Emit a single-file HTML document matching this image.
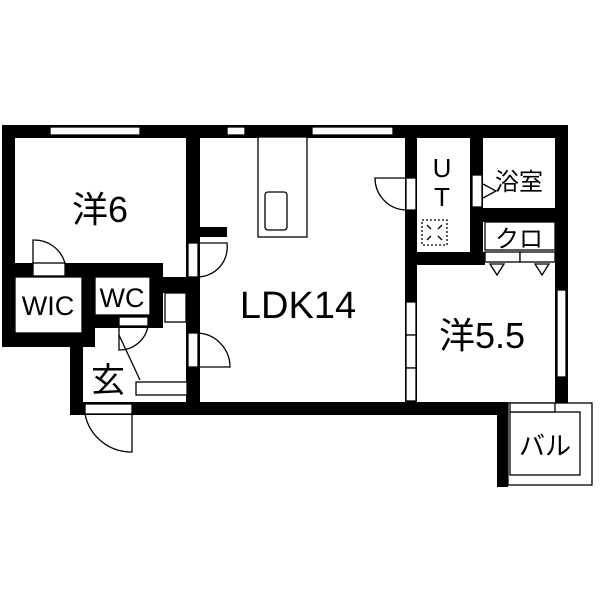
<!DOCTYPE html>
<html><head><meta charset="utf-8"><style>body{margin:0;background:#fff}svg{display:block}text{font-family:"Liberation Sans","Noto Sans CJK JP",sans-serif;fill:#000}</style></head><body>
<svg width="600" height="600" viewBox="0 0 600 600" xmlns="http://www.w3.org/2000/svg">
<g fill="#000">
<rect x="2" y="125" width="566" height="13"/>
<rect x="2" y="125" width="13" height="222"/>
<rect x="2" y="333" width="91" height="14"/>
<rect x="70" y="333" width="13" height="82"/>
<rect x="70" y="402" width="438" height="13"/>
<rect x="555" y="125" width="13" height="290"/>
<rect x="497" y="402" width="11" height="85"/>
<rect x="186" y="125" width="14" height="280"/>
<rect x="186" y="227" width="41" height="10"/>
<rect x="15" y="263" width="148" height="14"/>
<rect x="82" y="263" width="13" height="84"/>
<rect x="150" y="263" width="13" height="65"/>
<rect x="82" y="315" width="81" height="13"/>
<rect x="163" y="277" width="37" height="16"/>
<rect x="405" y="125" width="12" height="280"/>
<rect x="470" y="125" width="13" height="132"/>
<rect x="405" y="252" width="80" height="13"/>
<rect x="483" y="208" width="74" height="14"/>
</g>
<g fill="#fff" stroke="#000" stroke-width="1.3">
<rect x="50" y="127" width="90" height="8"/>
<rect x="227" y="127" width="18" height="8"/>
<rect x="312" y="127" width="81" height="8"/>
<rect x="15" y="277" width="67" height="56"/>
<rect x="95" y="277" width="55" height="38"/>
<rect x="33" y="263" width="32" height="13"/>
<rect x="119" y="317" width="29" height="9"/>
<rect x="165" y="293" width="21" height="29"/>
<rect x="136" y="382" width="51" height="13"/>
<rect x="85" y="404" width="47" height="10"/>
<rect x="188" y="243" width="10" height="34"/>
<rect x="188" y="333" width="10" height="34"/>
<rect x="406" y="178" width="10" height="32"/>
<rect x="472" y="175" width="10" height="32"/>
<rect x="406" y="302" width="10" height="33"/>
<rect x="406" y="335" width="10" height="33"/>
<rect x="406" y="368" width="10" height="33"/>
<rect x="485" y="222" width="70" height="28"/>
<rect x="485" y="252" width="35" height="10"/>
<rect x="520" y="252" width="35" height="10"/>
<rect x="557" y="290" width="9" height="87"/>
<rect x="508" y="403" width="84" height="82"/>
<rect x="510" y="412" width="70" height="63"/>
<rect x="510" y="403" width="45" height="9"/>
<rect x="258" y="137" width="49" height="100"/>
<rect x="265" y="192" width="22" height="38" rx="3"/>
</g>
<g fill="none" stroke="#000" stroke-width="1.3">
<path d="M33 263 V240 A32 32 0 0 1 65 263"/>
<path d="M198 243 H227 A30 30 0 0 1 198 277"/>
<path d="M198 333 A34 34 0 0 1 230 367 H198"/>
<path d="M406 178 H375 A32 32 0 0 0 406 210"/>
<path d="M119 326 V350 A29 29 0 0 0 148 326"/>
<path d="M119 335 L140 380"/>
<path d="M85 414 A47 47 0 0 0 132 452 V414"/>
<path d="M483 184 L496 191 L483 198"/>
<path d="M490 264 L497 275 L504 264 Z"/>
<path d="M535 264 L542 275 L549 264 Z"/>
<rect x="422" y="220" width="25" height="25" stroke-dasharray="2 2"/>
<path d="M427 225 L431 229 M442 225 L438 229 M427 240 L431 236 M442 240 L438 236"/>
</g>
<text x="100" y="222" font-size="36" text-anchor="middle">洋6</text>
<text x="298" y="318" font-size="38" text-anchor="middle">LDK14</text>
<text x="482" y="348" font-size="36" text-anchor="middle">洋5.5</text>
<text x="48" y="315" font-size="27" text-anchor="middle">WIC</text>
<text x="122" y="307" font-size="27" text-anchor="middle">WC</text>
<text x="108" y="392" font-size="34" text-anchor="middle">玄</text>
<text x="442" y="177" font-size="26" text-anchor="middle">U</text>
<text x="442" y="206" font-size="26" text-anchor="middle">T</text>
<text x="519" y="190" font-size="24" text-anchor="middle">浴室</text>
<text x="519" y="247" font-size="24" text-anchor="middle">クロ</text>
<text x="545" y="455" font-size="26" text-anchor="middle">バル</text>
</svg>
</body></html>
